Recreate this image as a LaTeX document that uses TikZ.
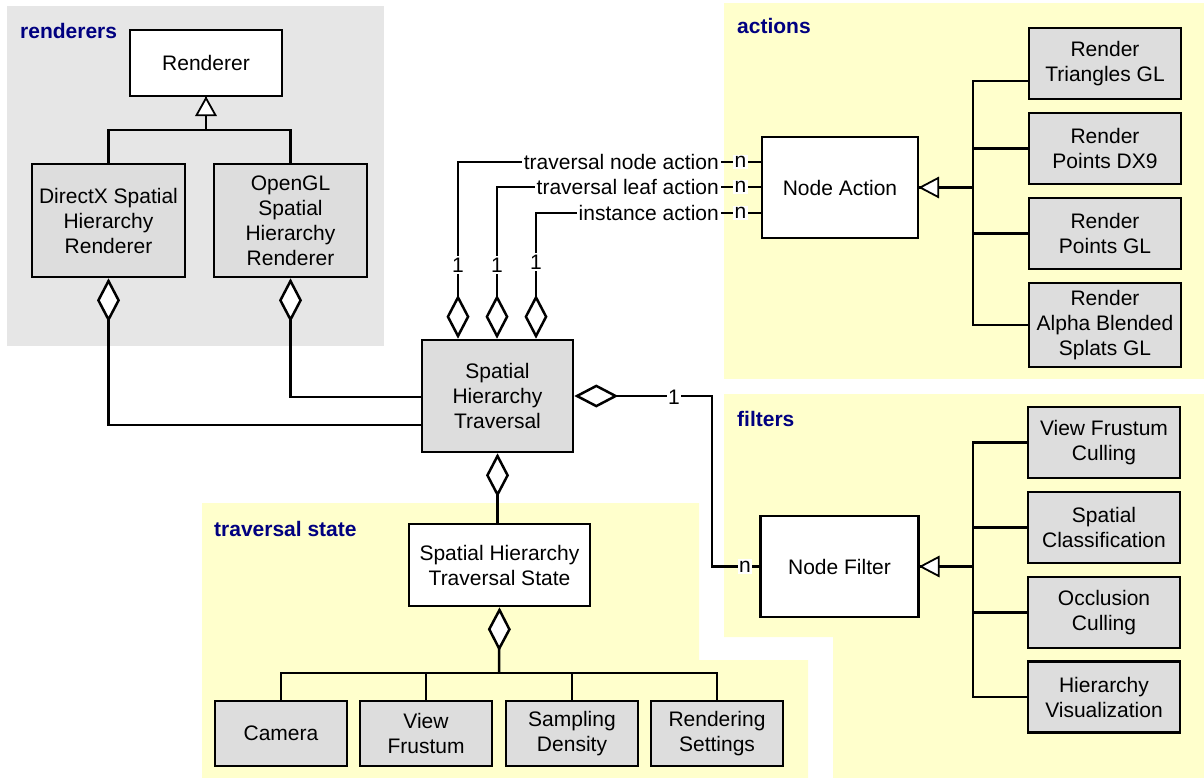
\documentclass[tikz,border=0pt]{standalone}
\usepackage{fontspec}
\setmainfont{Liberation Sans}
\usetikzlibrary{arrows.meta}
\definecolor{pkgyellow}{HTML}{FFFFCC}
\definecolor{pkggray}{HTML}{E6E6E6}
\definecolor{classgray}{HTML}{DDDDDD}
\definecolor{pkgtitle}{HTML}{000080}

\begin{document}
\begin{tikzpicture}[x=1pt,y=-1pt,
  every node/.style={font=\fontsize{21}{25}\selectfont},
  cls/.style={draw=black, line width=2.6pt, align=center, inner sep=0pt},
  classw/.style={cls, fill=white},
  classg/.style={cls, fill=classgray},
  pkglabel/.style={font=\fontsize{21}{25}\selectfont\bfseries, text=pkgtitle, inner sep=0pt, anchor=west},
  conn/.style={line width=2.5pt, draw=black},
  stem/.style={line width=3.5pt, draw=black},
  aggstart/.style={arrows={{Diamond[fill=white,length=44pt,width=23pt]}-}},
  hollowtri/.style={draw=black, fill=white, line width=1.8pt, line join=miter},
  mult/.style={fill=white, inner sep=1.5pt},
  role/.style={fill=white, inner sep=2pt, anchor=east}]

\useasboundingbox (0,0) rectangle (1204,778);

% package backgrounds
\fill[pkggray] (7,6) rectangle (384,346);
\fill[pkgyellow] (724,3) rectangle (1204,379);
\fill[pkgyellow] (724,394) -- (1204,394) -- (1204,778) -- (833,778) -- (833,637) -- (724,637) -- cycle;
\fill[pkgyellow] (202,503) -- (699,503) -- (699,660) -- (808,660) -- (808,778) -- (202,778) -- cycle;

% package titles
\node[pkglabel] (tRend) at (20,31) {renderers};
\node[pkglabel] (tAct) at (737,26) {actions};
\node[pkglabel] (tFilt) at (737,419) {filters};
\node[pkglabel] (tState) at (214,529) {traversal state};

% renderers
\node[classw, minimum width=152pt, minimum height=66pt] (rend) at (206,63) {Renderer};
\node[classg, minimum width=153pt, minimum height=113pt] (dx) at (108.5,220.5) {DirectX Spatial\\Hierarchy\\Renderer};
\node[classg, minimum width=153pt, minimum height=113pt] (ogl) at (290.5,220.5) {OpenGL\\Spatial\\Hierarchy\\Renderer};

% traversal
\node[classg, minimum width=151pt, minimum height=112pt] (sht) at (497.5,396) {Spatial\\Hierarchy\\Traversal};

% actions
\node[classw, minimum width=156pt, minimum height=101pt] (na) at (840,187.5) {Node Action};
\node[classg, minimum width=152pt, minimum height=71pt] (rt) at (1105,63.5) {Render\\Triangles GL};
\node[classg, minimum width=152pt, minimum height=71pt] (rpd) at (1105,148.5) {Render\\Points DX9};
\node[classg, minimum width=152pt, minimum height=71pt] (rpg) at (1105,233.5) {Render\\Points GL};
\node[classg, minimum width=152pt, minimum height=84pt] (rab) at (1105,325) {Render\\Alpha Blended\\Splats GL};

% filters
\node[classw, minimum width=158pt, minimum height=101pt] (nf) at (839.5,566.5) {Node Filter};
\node[classg, minimum width=152pt, minimum height=71pt] (vfc) at (1104,442.5) {View Frustum\\Culling};
\node[classg, minimum width=152pt, minimum height=71pt] (sc) at (1104,527.5) {Spatial\\Classification};
\node[classg, minimum width=152pt, minimum height=71pt] (oc) at (1104,612.5) {Occlusion\\Culling};
\node[classg, minimum width=152pt, minimum height=71pt] (hv) at (1104,697) {Hierarchy\\Visualization};

% traversal state
\node[classw, minimum width=181pt, minimum height=82pt] (shts) at (499.5,565) {Spatial Hierarchy\\Traversal State};
\node[classg, minimum width=132pt, minimum height=65pt] (cam) at (281,733.5) {Camera};
\node[classg, minimum width=132pt, minimum height=65pt] (vf) at (426,733.5) {View\\Frustum};
\node[classg, minimum width=132pt, minimum height=65pt] (sd) at (572,733.5) {Sampling\\Density};
\node[classg, minimum width=132pt, minimum height=65pt] (rs) at (717,733.5) {Rendering\\Settings};

% renderer generalization
\coordinate (rj) at (206,130);
\draw[conn] (dx.north) |- (rj) -| (ogl.north);
\draw[conn] (rj) -- (rend.south);
\draw[hollowtri] ([yshift=-0.9pt]rend.south) -- ++(-9.5,17) -- ++(19,0) -- cycle;

% renderers aggregate the traversal
\coordinate (dxc) at (108.5,425);
\coordinate (oglc) at (290.5,397);
\draw[conn, aggstart] (dx.south) -- (dxc) -- (sht.west |- dxc);
\draw[conn, aggstart] (ogl.south) -- (oglc) -- (sht.west |- oglc);

% traversal -> node actions
\coordinate (k1) at (458,162);
\coordinate (k2) at (497,187);
\coordinate (k3) at (536,213);
\draw[conn, aggstart] (sht.north -| k1) |- (na.west |- k1);
\draw[conn, aggstart] (sht.north -| k2) |- (na.west |- k2);
\draw[conn, aggstart] (sht.north -| k3) |- (na.west |- k3);
\node[mult] (m1) at (458,265) {1};
\node[mult] (m2) at (497,265) {1};
\node[mult] (m3) at (536,262) {1};
\node[role] (r1) at (721,162) {traversal node action};
\node[role] (r2) at (721,187) {traversal leaf action};
\node[role] (r3) at (721,213) {instance action};
\node[mult] (n1) at (740.5,162) {n};
\node[mult] (n2) at (740.5,187) {n};
\node[mult] (n3) at (740.5,213) {n};

% traversal -> node filter
\coordinate (fc) at (712,396);
\draw[conn, aggstart] (sht.east) -- (fc) |- (nf.west);
\node[mult] (m4) at (674,397) {1};
\node[mult] (n4) at (745,566.5) {n};

% node action generalization
\coordinate (ab) at (973,187.5);
\coordinate (at) at (973,81);
\draw[stem] (ab) -- (na.east);
\draw[hollowtri] ([xshift=0.9pt]na.east) -- ++(18,-9.5) -- ++(0,19) -- cycle;
\draw[conn] (rt.west |- at) -- (at) |- (rab.west);
\draw[conn] (at |- rpd.west) -- (rpd.west);
\draw[conn] (at |- rpg.west) -- (rpg.west);

% node filter generalization
\coordinate (fb) at (973,566.5);
\draw[stem] (fb) -- (nf.east);
\draw[hollowtri] ([xshift=0.9pt]nf.east) -- ++(18,-9.5) -- ++(0,19) -- cycle;
\draw[conn] (vfc.west) -| (fb) |- (hv.west);
\draw[conn] (fb |- sc.west) -- (sc.west);
\draw[conn] (fb |- oc.west) -- (oc.west);

% traversal state composition
\coordinate (tj) at (499,673);
\draw[conn, aggstart] (sht.south) -- (sht.south |- shts.north);
\draw[conn, aggstart] (shts.south) -- (tj);
\draw[conn] (cam.north) |- (tj) -| (rs.north);
\draw[conn] (vf.north) |- (tj);
\draw[conn] (sd.north) |- (tj);

\end{tikzpicture}
\end{document}
